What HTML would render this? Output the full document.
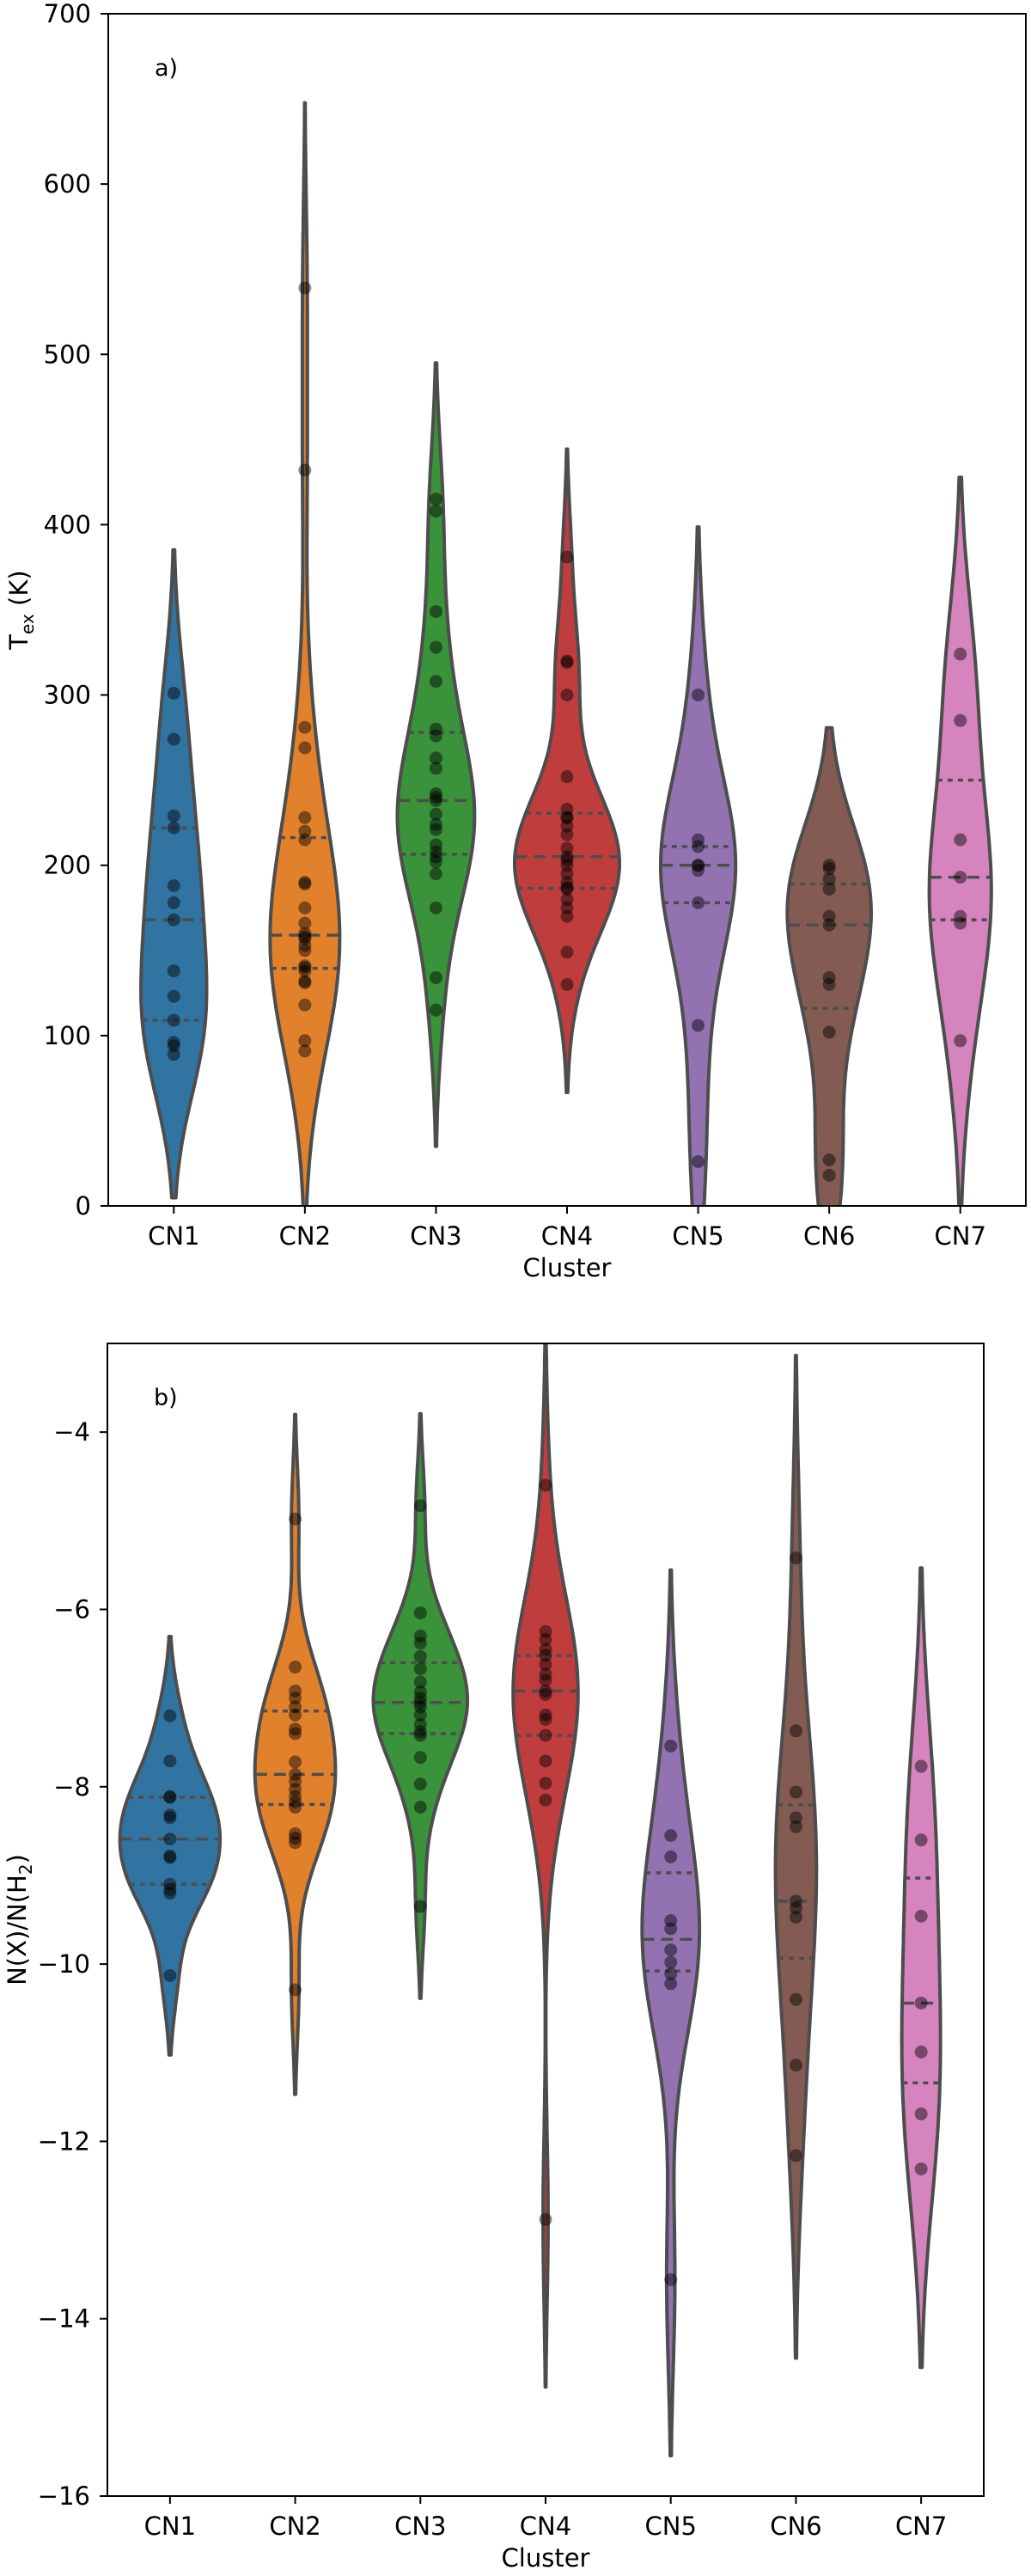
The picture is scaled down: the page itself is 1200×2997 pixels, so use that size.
<!DOCTYPE html>
<html><head><meta charset="utf-8"><style>
html,body{margin:0;padding:0;background:#fff;}
svg text{font-family:"DejaVu Sans","Liberation Sans",sans-serif;fill:#000;}
</style></head><body>
<svg id="chart" width="1200" height="2992" viewBox="0 0 1200 2992" xmlns="http://www.w3.org/2000/svg"></svg>
<script>
const categories = ["CN1","CN2","CN3","CN4","CN5","CN6","CN7"];
const colors = ["#3274a1","#e1812c","#3a923a","#c03d3e","#9372b2","#845b53","#d684bd"];
// Panel a: Tex (K)
const texCN1 = [301,274,229,222,188,178,168,138,123,109,96,94,89];
const texCN2 = [539,432,281,269,228,220,215,190,189,175,166,160,158,157,153,150,141,140,138,132,131,118,97,91];
const texCN3 = [415,408,349,328,308,280,276,263,257,242,240,238,230,224,221,212,208,205,202,195,175,134,115];
const texCN4 = [381,320,319,300,252,233,228,228,223,218,210,205,203,200,195,190,187,186,180,175,170,149,130];
const texCN5 = [300,215,211,200,200,197,178,106,26];
const texCN6 = [200,198,192,186,170,165,134,130,102,27,18];
const texCN7 = [324,285,215,193,170,166,97];
const texTicks = [0,100,200,300,400,500,600,700];
// Panel b: log abundance
const abuCN1 = [-7.2,-7.71,-8.11,-8.12,-8.32,-8.35,-8.59,-8.78,-8.8,-9.1,-9.16,-9.2,-10.13];
const abuCN2 = [-4.98,-6.65,-6.92,-7.0,-7.1,-7.19,-7.35,-7.4,-7.72,-7.86,-7.94,-8.03,-8.11,-8.17,-8.23,-8.53,-8.58,-8.63,-10.29];
const abuCN3 = [-4.83,-6.04,-6.3,-6.38,-6.53,-6.67,-6.82,-6.93,-7.0,-7.05,-7.1,-7.19,-7.3,-7.38,-7.42,-7.67,-7.97,-8.23,-9.35];
const abuCN4 = [-4.6,-6.25,-6.34,-6.45,-6.52,-6.62,-6.73,-6.8,-6.92,-6.96,-7.19,-7.24,-7.42,-7.71,-7.96,-8.15,-12.88];
const abuCN5 = [-7.54,-8.55,-8.79,-9.51,-9.6,-9.84,-9.98,-10.11,-10.22,-13.56];
const abuCN6 = [-5.42,-7.37,-8.06,-8.35,-8.45,-9.29,-9.37,-9.47,-10.4,-11.14,-12.16];
const abuCN7 = [-7.77,-8.6,-9.46,-10.44,-10.99,-11.69,-12.31];
const abuTicks = [-16,-14,-12,-10,-8,-6,-4];

const NS="http://www.w3.org/2000/svg";
const svg=document.getElementById('chart');
function el(tag,attrs,parent){const e=document.createElementNS(NS,tag);for(const k in attrs)e.setAttribute(k,attrs[k]);(parent||svg).appendChild(e);return e;}

function kdeFn(d){
  const n=d.length;const m=d.reduce((a,b)=>a+b,0)/n;
  const sd=Math.sqrt(d.reduce((a,b)=>a+(b-m)*(b-m),0)/(n-1));
  const bw=sd*Math.pow(n,-0.2);
  const f=x=>{let s=0;for(const v of d){const z=(x-v)/bw;s+=Math.exp(-0.5*z*z);}return s/(n*bw*Math.sqrt(2*Math.PI));};
  return {f,bw};
}
function pct(d,p){const s=[...d].sort((a,b)=>a-b);const i=(s.length-1)*p;const lo=Math.floor(i),hi=Math.ceil(i);return s[lo]+(s[hi]-s[lo])*(i-lo);}

function panel(o){
  const g=el('g',{});
  
  
  const sy=v=>o.y1+(v-o.vmin)/(o.vmax-o.vmin)*(o.y0-o.y1);
  const step=(o.x1-o.x0)/categories.length;
  const sx=i=>o.x0+step*(i+0.5);
  const cid='clip-'+o.name;
  const defs=el('defs',{},g);
  const cp=el('clipPath',{id:cid},defs);
  el('rect',{x:o.x0,y:o.y0,width:o.x1-o.x0,height:o.y1-o.y0},cp);
  const plot=el('g',{'clip-path':'url(#'+cid+')'},g);
  const kdes=o.series.map(d=>{const k=kdeFn(d);const lo=Math.min(...d)-2*k.bw,hi=Math.max(...d)+2*k.bw;const pts=[];for(let j=0;j<=120;j++){const v=lo+(hi-lo)*j/120;pts.push([v,k.f(v)]);}return {k,pts};});
  const maxD=Math.max(...kdes.map(q=>Math.max(...q.pts.map(p=>p[1]))));
  const hw=step*0.4;
  o.series.forEach((d,i)=>{
    const q=kdes[i];const cx=sx(i);
    let path='';
    q.pts.forEach((p,j)=>{path+=(j?'L':'M')+(cx+p[1]/maxD*hw).toFixed(1)+','+sy(p[0]).toFixed(1);});
    for(let j=q.pts.length-1;j>=0;j--){const p=q.pts[j];path+='L'+(cx-p[1]/maxD*hw).toFixed(1)+','+sy(p[0]).toFixed(1);}
    path+='Z';
    const vp=el('path',{d:path,fill:colors[i],stroke:'#4d4d4d','stroke-width':4,'stroke-linejoin':'round'},plot);
    
    
    [[0.25,'6 6'],[0.5,'14 8'],[0.75,'6 6']].forEach(([p,da])=>{
      const v=pct(d,p);const w=q.k.f(v)/maxD*hw;
      const ln=el('line',{x1:cx-w,x2:cx+w,y1:sy(v),y2:sy(v),stroke:'#4d4d4d','stroke-width':3.5,'stroke-dasharray':da},plot);
      
      
    });
  });
  o.series.forEach((d,i)=>{
    d.forEach(v=>{
      const c=el('circle',{cx:sx(i),cy:sy(v),r:7.5,fill:'#000','fill-opacity':0.45},plot);
      
      
    });
  });
  const fr=el('rect',{x:o.x0,y:o.y0,width:o.x1-o.x0,height:o.y1-o.y0,fill:'none',stroke:'#000','stroke-width':2},g);
  
  
  o.ticks.forEach(t=>{
    el('line',{x1:o.x0-9,x2:o.x0,y1:sy(t),y2:sy(t),stroke:'#000','stroke-width':2},g);
    const tx=el('text',{x:o.x0-20,y:sy(t)+10,'text-anchor':'end','font-size':29},g);
    tx.textContent=t<0?'\u2212'+Math.abs(t):String(t);
    
    
  });
  categories.forEach((c,i)=>{
    el('line',{x1:sx(i),x2:sx(i),y1:o.y1,y2:o.y1+9,stroke:'#000','stroke-width':2},g);
    const tx=el('text',{x:sx(i),y:o.y1+45,'text-anchor':'middle','font-size':29},g);
    tx.textContent=c;
    
    
  });
  const xl=el('text',{x:(o.x0+o.x1)/2,y:o.y1+82,'text-anchor':'middle','font-size':29},g);
  xl.textContent='Cluster';
  
  
  const yc=(o.y0+o.y1)/2;
  const yl=el('text',{x:0,y:0,'text-anchor':'middle','font-size':29,transform:'translate('+(o.ylx)+','+yc+') rotate(-90)'},g);
  yl.innerHTML=o.ylabel;
  
  
  const pl=el('text',{x:o.x0+54,y:o.y0+72,'font-size':27},g);
  pl.textContent=o.letter;
  
  
}
panel({name:'panel-a',x0:126,x1:1194,y0:16,y1:1403,vmin:0,vmax:700,ticks:texTicks,
  series:[texCN1,texCN2,texCN3,texCN4,texCN5,texCN6,texCN7],
  ylabel:'T<tspan font-size="20" dy="7">ex</tspan><tspan dy="-7"> (K)</tspan>',ylx:32,letter:'a)'});
panel({name:'panel-b',x0:125,x1:1145,y0:1563,y1:2904,vmin:-16,vmax:-3,ticks:abuTicks,
  series:[abuCN1,abuCN2,abuCN3,abuCN4,abuCN5,abuCN6,abuCN7],
  ylabel:'N(X)/N(H<tspan font-size="20" dy="7">2</tspan><tspan dy="-7">)</tspan>',ylx:30,letter:'b)'});
</script>
</body></html>
